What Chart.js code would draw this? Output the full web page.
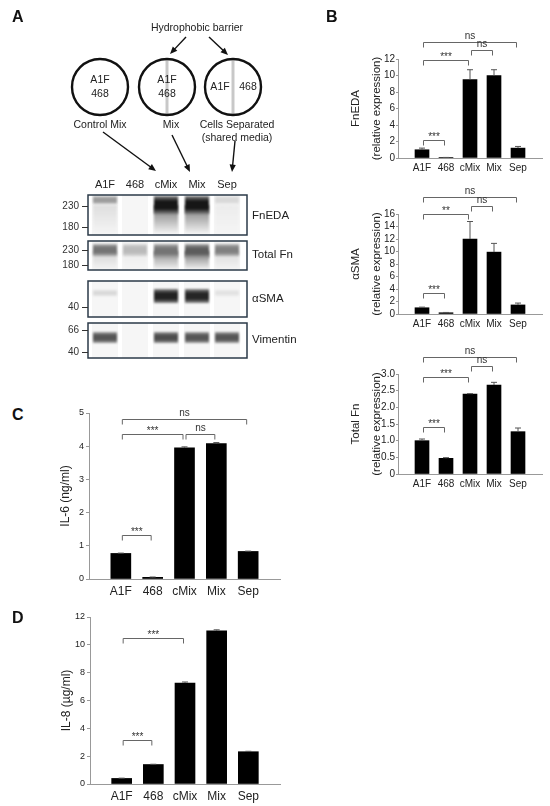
<!DOCTYPE html>
<html>
<head>
<meta charset="utf-8">
<script src="https://cdn.jsdelivr.net/npm/chart.js@4/dist/chart.umd.min.js"></script>
<style>
  html, body { margin: 0; padding: 0; background: #fff; }
  #page { position: relative; width: 550px; height: 806px; overflow: hidden; font-family: "Liberation Sans", Arial, sans-serif; }
  canvas { position: absolute; }
  .tag { position: absolute; font-weight: bold; font-size: 16px; color: #111; }
</style>
</head>
<body>
<div id="page">
  <canvas id="schema" width="340" height="390" style="left:0;top:0"></canvas>
  <canvas id="fneda" width="208" height="160" style="left:340px;top:20px"></canvas>
  <canvas id="sma" width="208" height="161" style="left:340px;top:175px"></canvas>
  <canvas id="totalfn" width="208" height="161" style="left:340px;top:335px"></canvas>
  <canvas id="il6" width="240" height="208" style="left:50px;top:393px"></canvas>
  <canvas id="il8" width="239" height="209" style="left:51px;top:597px"></canvas>
  <div class="tag" style="left:12px;top:8px">A</div>
  <div class="tag" style="left:326px;top:8px">B</div>
  <div class="tag" style="left:12px;top:406px">C</div>
  <div class="tag" style="left:12px;top:609px">D</div>
</div>
<script>
// groups on every x axis
const groups = ['A1F', '468', 'cMix', 'Mix', 'Sep'];

// panel B, western blot quantification
const fneda = [1.0, 0.05, 9.5, 10.0, 1.2];
const fnedaErr = [0.2, 0.02, 1.2, 0.7, 0.2];
const sma = [1.0, 0.2, 12.0, 9.9, 1.45];
const smaErr = [0.1, 0.05, 2.8, 1.4, 0.3];
const totalFn = [1.0, 0.47, 2.4, 2.67, 1.27];
const totalFnErr = [0.05, 0.02, 0.01, 0.08, 0.11];

// panels C and D, secreted cytokines
const il6 = [0.77, 0.05, 3.95, 4.08, 0.83];
const il6Err = [0.01, 0.01, 0.03, 0.03, 0.01];
const il8 = [0.4, 1.4, 7.25, 11.0, 2.32];
const il8Err = [0.02, 0.02, 0.08, 0.08, 0.03];

// significance brackets: [from group, to group, height in axis units, label]
const fnedaSig = [[0, 4, 14.1, 'ns'], [2, 3, 13.1, 'ns'], [0, 2, 11.9, '***'], [0, 1, 2.2, '***']];
const smaSig = [[0, 4, 18.7, 'ns'], [2, 3, 17.3, 'ns'], [0, 2, 16.0, '**'], [0, 1, 3.4, '***']];
const totalFnSig = [[0, 4, 3.51, 'ns'], [2, 3, 3.24, 'ns'], [0, 2, 2.91, '***'], [0, 1, 1.41, '***']];
const il6Sig = [[0, 4, 4.83, 'ns'], [0, 2, 4.38, '***'], [2, 3, 4.38, 'ns'], [0, 1, 1.32, '***']];
const il8Sig = [[0, 2, 10.5, '***'], [0, 1, 3.17, '***']];

// blot band intensities per lane (0 = empty, 1 = black)
const bandFnEDA = [0.38, 0, 0.95, 0.95, 0.12];
const smearFnEDA = [0.1, 0, 0.55, 0.55, 0.04];
const bandTotalFn = [0.55, 0.25, 0.55, 0.65, 0.5];
const smearTotalFn = [0.15, 0.04, 0.45, 0.55, 0.12];
const bandSMA = [0.12, 0, 0.9, 0.88, 0.08];
const bandVim = [0.68, 0, 0.72, 0.68, 0.68];

const FONT = '"Liberation Sans", Arial, sans-serif';
const NARROW = '"Liberation Sans Narrow", "Liberation Sans", Arial, sans-serif';

const whiskers = {
  id: 'whiskers',
  afterDatasetsDraw(chart, args, opts) {
    const {ctx, scales: {x, y}} = chart;
    ctx.save();
    ctx.strokeStyle = '#555';
    ctx.lineWidth = 1;
    opts.values.forEach((v, i) => {
      const e = opts.errors[i];
      if (!e) return;
      const px = x.getPixelForValue(i);
      const y0 = y.getPixelForValue(v);
      const y1 = y.getPixelForValue(v + e);
      ctx.beginPath();
      ctx.moveTo(px, y0);
      ctx.lineTo(px, y1);
      ctx.moveTo(px - opts.cap, y1);
      ctx.lineTo(px + opts.cap, y1);
      ctx.stroke();
    });
    ctx.restore();
  }
};

const brackets = {
  id: 'brackets',
  afterDraw(chart, args, opts) {
    const {ctx, scales: {x, y}} = chart;
    ctx.save();
    ctx.strokeStyle = '#666';
    ctx.fillStyle = '#333';
    ctx.lineWidth = 1;
    ctx.textAlign = 'center';
    ctx.textBaseline = 'bottom';
    ctx.font = opts.size + 'px ' + FONT;
    opts.list.forEach(([a, b, h, label]) => {
      const x1 = x.getPixelForValue(a) + 1.5;
      const x2 = x.getPixelForValue(b) - 1.5;
      const py = Math.round(y.getPixelForValue(h)) + 0.5;
      ctx.beginPath();
      ctx.moveTo(x1, py + opts.drop);
      ctx.lineTo(x1, py);
      ctx.lineTo(x2, py);
      ctx.lineTo(x2, py + opts.drop);
      ctx.stroke();
      ctx.fillText(label, (x1 + x2) / 2, label === 'ns' ? py - 1 : py + 2);
    });
    ctx.restore();
  }
};

function barChart(id, values, errors, sig, o) {
  const points = groups.map((g, i) => ({x: i, y: values[i]}));
  return new Chart(document.getElementById(id), {
    type: 'bar',
    data: {
      datasets: [{
        data: points,
        backgroundColor: '#000',
        borderWidth: 0,
        barThickness: o.bar
      }]
    },
    options: {
      responsive: false,
      animation: false,
      layout: {padding: {top: o.top, right: o.right, left: 0, bottom: 0}},
      scales: {
        x: {
          type: 'linear',
          offset: false,
          min: -1,
          max: 5,
          afterFit: s => { s.height = 22; },
          border: {color: '#999', width: 1},
          grid: {drawOnChartArea: false, drawTicks: false},
          ticks: {
            stepSize: 1,
            autoSkip: false,
            maxRotation: 0,
            padding: o.catPad,
            color: '#222',
            font: {family: FONT, size: o.catSize},
            callback: v => groups[v] ?? ''
          }
        },
        y: {
          min: 0,
          max: o.max,
          afterFit: s => { s.width = o.axisW; },
          border: {color: '#999', width: 1},
          grid: {drawOnChartArea: false, tickLength: o.tickLen, color: '#999'},
          ticks: {
            stepSize: o.step,
            autoSkip: false,
            padding: o.tickPad,
            color: '#222',
            font: {family: o.tickFont, size: o.tickSize},
            callback: o.fmt || (v => v)
          },
          title: {
            display: true,
            text: o.title,
            color: '#222',
            font: {family: FONT, size: o.titleSize, lineHeight: o.titleLH},
            padding: {top: o.titlePad, bottom: 0}
          }
        }
      },
      plugins: {
        legend: {display: false},
        tooltip: {enabled: false},
        whiskers: {values: values, errors: errors, cap: o.cap},
        brackets: {list: sig, drop: 5, size: o.sigSize}
      }
    },
    plugins: [whiskers, brackets]
  });
}

const bOpts = {bar: 14, top: 39, right: 6, axisW: 58, catSize: 10, catPad: 4,
  tickFont: NARROW, tickSize: 10, tickLen: 2, tickPad: 1,
  titleSize: 11.5, titleLH: 1.83, titlePad: 5.5, cap: 3, sigSize: 10};
barChart('fneda', fneda, fnedaErr, fnedaSig, Object.assign({}, bOpts,
  {max: 12, step: 2, title: ['FnEDA', '(relative expression)']}));
barChart('sma', sma, smaErr, smaSig, Object.assign({}, bOpts,
  {max: 16, step: 2, title: ['\u03b1SMA', '(relative expression)']}));
barChart('totalfn', totalFn, totalFnErr, totalFnSig, Object.assign({}, bOpts,
  {max: 3, step: 0.5, title: ['Total Fn', '(relative expression)'], fmt: v => v === 0 ? '0' : v.toFixed(1)}));

const cOpts = {bar: 20, top: 20, right: 10, axisW: 39, catSize: 12, catPad: 5,
  tickFont: FONT, tickSize: 9, tickLen: 3, tickPad: 2,
  titleSize: 12, titleLH: 1.2, titlePad: 8, cap: 3, sigSize: 10};
barChart('il6', il6, il6Err, il6Sig, Object.assign({}, cOpts,
  {max: 5, step: 1, title: 'IL-6 (ng/ml)'}));
barChart('il8', il8, il8Err, il8Sig, Object.assign({}, cOpts,
  {max: 12, step: 2, title: 'IL-8 (\u00b5g/ml)'}));

// panel A: culture schematic and blots
(function drawSchema() {
  const ctx = document.getElementById('schema').getContext('2d');
  const txt = (s, x, y, size, align) => {
    ctx.font = size + 'px ' + FONT;
    ctx.textAlign = align || 'center';
    ctx.textBaseline = 'middle';
    ctx.fillStyle = '#222';
    ctx.fillText(s, x, y);
  };
  const arrow = (x1, y1, x2, y2) => {
    const a = Math.atan2(y2 - y1, x2 - x1);
    ctx.strokeStyle = '#111';
    ctx.fillStyle = '#111';
    ctx.lineWidth = 1.4;
    ctx.beginPath();
    ctx.moveTo(x1, y1);
    ctx.lineTo(x2 - 5 * Math.cos(a), y2 - 5 * Math.sin(a));
    ctx.stroke();
    ctx.beginPath();
    ctx.moveTo(x2, y2);
    ctx.lineTo(x2 - 8 * Math.cos(a - 0.4), y2 - 8 * Math.sin(a - 0.4));
    ctx.lineTo(x2 - 8 * Math.cos(a + 0.4), y2 - 8 * Math.sin(a + 0.4));
    ctx.closePath();
    ctx.fill();
  };
  const dish = (cx, barrier) => {
    if (barrier) {
      ctx.strokeStyle = '#c8c8c8';
      ctx.lineWidth = 3;
      ctx.beginPath();
      ctx.moveTo(cx, 87 - 27);
      ctx.lineTo(cx, 87 + 27);
      ctx.stroke();
    }
    ctx.strokeStyle = '#111';
    ctx.lineWidth = 2.4;
    ctx.beginPath();
    ctx.arc(cx, 87, 28, 0, Math.PI * 2);
    ctx.stroke();
  };

  txt('Hydrophobic barrier', 197, 28, 10.5);
  arrow(186, 37, 170, 54);
  arrow(209, 37, 228, 55);

  dish(100, false);
  dish(167, true);
  dish(233, true);
  txt('A1F', 100, 80, 10.5); txt('468', 100, 94, 10.5);
  txt('A1F', 167, 80, 10.5); txt('468', 167, 94, 10.5);
  txt('A1F', 220, 87, 10.5); txt('468', 248, 87, 10.5);

  txt('Control Mix', 100, 125, 10.5);
  txt('Mix', 171, 125, 10.5);
  txt('Cells Separated', 237, 125, 10.5);
  txt('(shared media)', 237, 138, 10.5);
  arrow(103, 132, 156, 171);
  arrow(172, 135, 190, 172);
  arrow(235, 141, 232, 172);

  const lanes = [105, 135, 166, 197, 227];
  groups.forEach((g, i) => txt(g, lanes[i], 185, 11));

  const shade = k => { const c = Math.round(245 - 235 * k); return `rgb(${c},${c},${c})`; };
  const box = (top, bottom, name, nameY, marks, paint) => {
    ctx.fillStyle = '#fff';
    ctx.fillRect(88, top, 159, bottom - top);
    lanes.forEach(cx => { ctx.fillStyle = '#f6f6f6'; ctx.fillRect(cx - 13, top, 26, bottom - top); });
    ctx.save();
    ctx.beginPath();
    ctx.rect(88, top, 159, bottom - top);
    ctx.clip();
    ctx.filter = 'blur(0.8px)';
    lanes.forEach((cx, i) => paint(cx, i));
    ctx.restore();
    ctx.strokeStyle = '#2b3a48';
    ctx.lineWidth = 1.5;
    ctx.strokeRect(88, top, 159, bottom - top);
    txt(name, 252, nameY, 11.5, 'left');
    marks.forEach(([lab, my]) => {
      ctx.font = '10px ' + FONT;
      ctx.textAlign = 'right';
      ctx.textBaseline = 'middle';
      ctx.fillStyle = '#333';
      ctx.fillText(lab, 79, my);
      ctx.strokeStyle = '#333';
      ctx.lineWidth = 1;
      ctx.beginPath();
      ctx.moveTo(82, my + 0.5);
      ctx.lineTo(88, my + 0.5);
      ctx.stroke();
    });
  };
  const band = (cx, y0, y1, k) => {
    if (!k) return;
    const g = ctx.createLinearGradient(0, y0, 0, y1);
    g.addColorStop(0, shade(k * 0.5));
    g.addColorStop(0.3, shade(k));
    g.addColorStop(0.7, shade(k));
    g.addColorStop(1, shade(k * 0.5));
    ctx.fillStyle = g;
    ctx.fillRect(cx - 12, y0, 24, y1 - y0);
  };
  const smear = (cx, y0, y1, k) => {
    if (!k) return;
    const g = ctx.createLinearGradient(0, y0, 0, y1);
    g.addColorStop(0, shade(k));
    g.addColorStop(1, shade(0));
    ctx.fillStyle = g;
    ctx.fillRect(cx - 12, y0, 24, y1 - y0);
  };

  box(195, 235, 'FnEDA', 216, [['230', 206], ['180', 227]], (cx, i) => {
    smear(cx, 205, 234, smearFnEDA[i]);
    band(cx, 196, i === 2 || i === 3 ? 214 : 204, bandFnEDA[i]);
  });
  box(241, 270, 'Total Fn', 255, [['230', 250], ['180', 265]], (cx, i) => {
    smear(cx, 251, 270, smearTotalFn[i]);
    band(cx, 244, i === 2 || i === 3 ? 258 : 256, bandTotalFn[i]);
  });
  box(281, 317, '\u03b1SMA', 299, [['40', 307]], (cx, i) => {
    band(cx, i === 2 || i === 3 ? 289 : 290, i === 2 || i === 3 ? 303 : 296, bandSMA[i]);
  });
  box(323, 358, 'Vimentin', 340, [['66', 330], ['40', 352]], (cx, i) => {
    band(cx, 332, 343, bandVim[i]);
  });
})();
</script>
</body>
</html>
